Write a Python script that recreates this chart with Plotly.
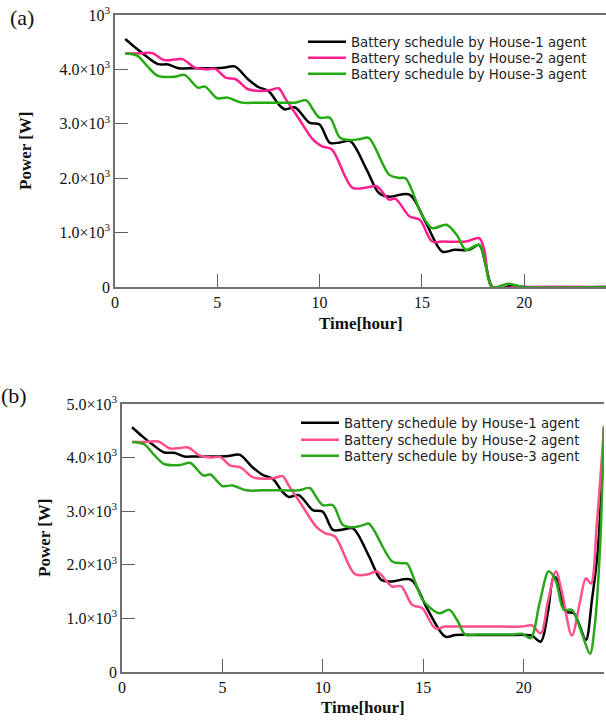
import plotly.graph_objects as go

# ---------------- Data: panel (a) ----------------
a_h1_t = [0.5, 1.0, 1.5, 2.1, 2.6, 3.1, 3.6, 4.5, 5.3, 5.85, 6.5, 7.0, 7.5, 8.0, 8.3, 8.8, 9.5, 10.0, 10.5, 11.0, 11.5,
          12.3, 12.9, 13.4, 14.4, 15.2, 16.0, 16.6, 17.3, 17.8, 18.1, 18.45, 19.0, 19.4, 20.0, 24.0]
a_h1_v = [4560, 4400, 4250, 4096, 4090, 4022, 4020, 4020, 4030, 4055, 3820, 3677, 3604, 3358, 3266, 3300, 3020, 2989,
          2651, 2657, 2681, 2159, 1729, 1660, 1700, 1177, 651, 683, 683, 775, 440, 0, -20, 30, 0, 0]

a_h2_t = [0.5, 1.0, 1.8, 2.4, 2.9, 3.3, 3.9, 4.5, 4.9, 5.4, 5.9, 6.5, 7.1, 7.6, 8.0, 8.3, 8.95, 9.67, 10.1, 10.6, 11.6,
          12.3, 12.8, 13.4, 13.7, 14.4, 14.9, 15.5, 16.0, 17.15, 17.8, 18.05, 18.4, 19.0, 20.0, 24.0]
a_h2_v = [4293, 4290, 4300, 4170, 4180, 4188, 4034, 4003, 4010, 3850, 3819, 3635, 3604, 3620, 3653, 3481, 3115, 2712,
          2589, 2528, 1827, 1827, 1851, 1605, 1624, 1297, 1236, 836, 836, 836, 898, 683, 0, -20, 0, 0]

a_h3_t = [0.5, 1.1, 1.6, 2.1, 2.9, 3.4, 4.05, 4.4, 5.0, 5.5, 6.2, 7.0, 8.0, 8.8, 9.35, 9.67, 10.0, 10.5, 11.0, 11.5,
          12.0, 12.4, 13.4, 13.9, 14.2, 15.0, 15.5, 16.2, 16.7, 17.15, 17.8, 18.45, 19.2, 19.6, 20.0, 24.0]
a_h3_v = [4293, 4250, 4050, 3881, 3863, 3900, 3666, 3684, 3469, 3481, 3389, 3389, 3389, 3389, 3432, 3266, 3112, 3112,
          2743, 2700, 2720, 2743, 2066, 2005, 2000, 1328, 1082, 1144, 959, 683, 775, 0, 60, 30, 0, 0]

# ---------------- Data: panel (b) ----------------
b_h1_t = [0.5, 1.0, 1.5, 2.1, 2.6, 3.1, 3.6, 4.5, 5.3, 5.85, 6.5, 7.0, 7.5, 8.0, 8.3, 8.8, 9.5, 10.0, 10.5, 11.0, 11.5,
          12.3, 12.9, 13.4, 14.4, 15.2, 16.1, 16.6, 17.5, 18.5, 19.5, 20.0, 20.4, 20.85, 21.2, 21.5, 21.7, 22.1, 22.5,
          22.75, 23.1, 23.4, 23.7, 24.0]
b_h1_v = [4566, 4400, 4250, 4096, 4090, 4022, 4020, 4020, 4030, 4055, 3820, 3677, 3604, 3358, 3266, 3300, 3020, 2989,
          2651, 2657, 2681, 2159, 1720, 1688, 1720, 1177, 660, 692, 692, 692, 692, 692, 680, 567, 1100, 1780, 1700,
          1128, 1097, 900, 600, 1345, 2300, 4580]

b_h2_t = [0.5, 1.0, 1.8, 2.4, 2.9, 3.3, 3.9, 4.5, 4.9, 5.4, 5.9, 6.5, 7.1, 7.6, 8.0, 8.3, 8.95, 9.67, 10.1, 10.6, 11.6,
          12.3, 12.7, 13.45, 13.9, 14.45, 14.95, 15.6, 16.1, 17.0, 18.0, 19.0, 19.9, 20.4, 20.85, 21.2, 21.6, 21.9,
          22.4, 22.8, 23.1, 23.35, 23.65, 24.0]
b_h2_v = [4293, 4290, 4300, 4170, 4180, 4188, 4034, 4003, 4010, 3850, 3819, 3635, 3604, 3620, 3653, 3481, 3115, 2712,
          2589, 2528, 1827, 1827, 1875, 1595, 1600, 1252, 1190, 816, 847, 847, 847, 847, 847, 870, 723, 1300, 1875,
          1500, 680, 1300, 1750, 1650, 2800, 4560]

b_h3_t = [0.5, 1.1, 1.6, 2.1, 2.9, 3.4, 4.05, 4.4, 5.0, 5.5, 6.2, 7.0, 8.0, 8.8, 9.35, 9.67, 10.0, 10.5, 11.0, 11.5,
          12.0, 12.3, 13.45, 13.95, 14.2, 15.0, 15.8, 16.3, 16.7, 17.1, 17.6, 18.5, 19.5, 19.95, 20.35, 20.8, 21.25,
          21.6, 22.0, 22.4, 22.9, 23.3, 23.55, 23.8, 24.0]
b_h3_v = [4293, 4250, 4050, 3881, 3863, 3900, 3666, 3684, 3469, 3481, 3389, 3389, 3389, 3389, 3432, 3266, 3112, 3112,
          2743, 2700, 2740, 2766, 2062, 2031, 2020, 1330, 1097, 1159, 960, 692, 700, 700, 700, 710, 630, 1300, 1880,
          1700, 1160, 1160, 720, 340, 900, 2300, 4570]

# ---------------- Labels ----------------
series_names = ["Battery schedule by House-1 agent",
                "Battery schedule by House-2 agent",
                "Battery schedule by House-3 agent"]
x_tickvals = [0, 5, 10, 15, 20]
x_ticktext = ["0", "5", "10", "15", "20"]
y_tickvals = [0, 1000, 2000, 3000, 4000, 5000]
a_y_ticktext = ["0", "1.0×10<sup>3</sup>", "2.0×10<sup>3</sup>", "3.0×10<sup>3</sup>", "4.0×10<sup>3</sup>",
                "10<sup>3</sup>"]
b_y_ticktext = ["0", "1.0×10<sup>3</sup>", "2.0×10<sup>3</sup>", "3.0×10<sup>3</sup>", "4.0×10<sup>3</sup>",
                "5.0×10<sup>3</sup>"]
x_title = "Time[hour]"
y_title = "Power [W]"

W, H = 606, 720
a_colors = ["#000000", "#ff1f8e", "#22aa10"]
b_colors = ["#000000", "#ff4f8c", "#2aa61a"]

fig = go.Figure()

a_leg = ["legend", "legend2", "legend3"]
b_leg = ["legend4", "legend5", "legend6"]
for t, v, name, c, lg in zip([a_h1_t, a_h2_t, a_h3_t], [a_h1_v, a_h2_v, a_h3_v], series_names, a_colors, a_leg):
    fig.add_trace(go.Scatter(x=t, y=v, mode="lines", name=name, xaxis="x", yaxis="y",
                             line=dict(color=c, width=2.5, shape="spline", smoothing=0.9),
                             legend=lg))
for t, v, name, c, lg in zip([b_h1_t, b_h2_t, b_h3_t], [b_h1_v, b_h2_v, b_h3_v], series_names, b_colors, b_leg):
    fig.add_trace(go.Scatter(x=t, y=v, mode="lines", name=name, xaxis="x2", yaxis="y2",
                             line=dict(color=c, width=2.5, shape="spline", smoothing=0.9),
                             legend=lg))

serif = "Liberation Serif"
axis_common = dict(showgrid=False, zeroline=False, showline=True, linecolor="#707070", linewidth=1.5,
                   ticks="inside", ticklen=13, tickwidth=1.3, tickcolor="#606060", automargin=False,
                   tickfont=dict(family=serif, size=16, color="#111111"))

leg_font = dict(family="DejaVu Sans", size=13.3, color="#222222")
def leg(x_px, y_px):
    return dict(x=x_px / W, y=1 - y_px / H, xanchor="left", yanchor="middle", bgcolor="rgba(0,0,0,0)",
                font=leg_font, itemwidth=38, borderwidth=0)

fig.update_layout(
    width=W, height=H,
    autosize=False,
    margin=dict(l=0, r=0, t=0, b=0, pad=0, autoexpand=False),
    paper_bgcolor="white", plot_bgcolor="white",
    xaxis=dict(domain=[115 / W, 1.0], range=[0, 24], anchor="y", mirror=True,
               tickvals=x_tickvals, ticktext=x_ticktext, **axis_common),
    yaxis=dict(domain=[1 - 287 / H, 1 - 15 / H], range=[0, 5000], anchor="x",
               tickvals=y_tickvals, ticktext=a_y_ticktext, **axis_common),
    xaxis2=dict(domain=[122 / W, 604 / W], range=[0, 24], anchor="y2", mirror=True,
                tickvals=x_tickvals, ticktext=x_ticktext, **axis_common),
    yaxis2=dict(domain=[1 - 672 / H, 1 - 404 / H], range=[0, 5000], anchor="x2",
                tickvals=y_tickvals, ticktext=b_y_ticktext, **axis_common),
    legend=leg(303, 42), legend2=leg(303, 58), legend3=leg(303, 74),
    legend4=leg(296, 423), legend5=leg(296, 440), legend6=leg(296, 456),
    showlegend=True,
)

title_font = dict(family=serif, size=17, color="#111111", weight="bold")
ann = [
    dict(text="(a)", x=22 / W, y=1 - 17 / H, font=dict(family=serif, size=22, color="#111111")),
    dict(text="(b)", x=14 / W, y=1 - 395 / H, font=dict(family=serif, size=22, color="#111111")),
    dict(text="<b>" + y_title + "</b>", x=25 / W, y=1 - 151 / H, textangle=-90, font=title_font),
    dict(text="<b>" + y_title + "</b>", x=44 / W, y=1 - 538 / H, textangle=-90, font=title_font),
    dict(text="<b>" + x_title + "</b>", x=361 / W, y=1 - 324 / H, font=title_font),
    dict(text="<b>" + x_title + "</b>", x=363 / W, y=1 - 707 / H, font=title_font),
]
for a in ann:
    a.update(xref="paper", yref="paper", xanchor="center", yanchor="middle", showarrow=False)
    fig.add_annotation(**a)

fig.write_html("out.html", config={"displayModeBar": False},
               post_script="document.body.style.margin='0';document.body.style.overflow='hidden';")
